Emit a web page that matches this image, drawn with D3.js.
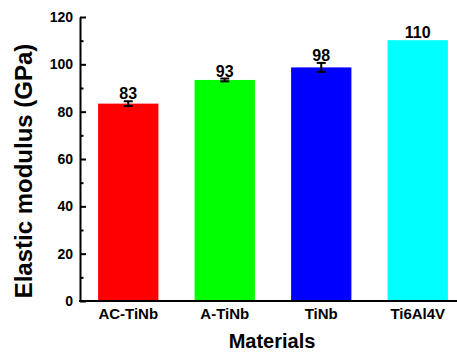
<!DOCTYPE html>
<html>
    <head>
        <meta charset="utf-8"/>
        <script src="https://cdnjs.cloudflare.com/ajax/libs/d3/7.8.5/d3.min.js"></script>
        <style>
            body { margin: 0; background: #fff; }
            svg { display: block; font-family: Arial, "Liberation Sans", sans-serif; }
        </style>
    </head>
    <body>
        <script>
            // data
            const materials = ['AC-TiNb', 'A-TiNb', 'TiNb', 'Ti6Al4V'];
            const modulus = [83.4, 93.4, 98.7, 110.2];
            const errors = [1.0, 0.6, 1.9, 0];
            const labels = ['83', '93', '98', '110'];
            const colors = ['#ff0000', '#00ff00', '#0000ff', '#00ffff'];
            const majorTicks = [0, 20, 40, 60, 80, 100, 120];
            const minorTicks = [10, 30, 50, 70, 90, 110];

            const width = 457, height = 355;
            const svg = d3.select('body').append('svg')
                .attr('width', width)
                .attr('height', height);

            const x = d3.scaleBand()
                .domain(materials)
                .range([80, 466])
                .paddingInner(0.375)
                .paddingOuter(0.1875);

            const y = d3.scaleLinear()
                .domain([0, 120])
                .range([301, 17]);

            // bars
            svg.append('g')
                .selectAll('rect')
                .data(materials)
                .join('rect')
                .attr('x', d => x(d))
                .attr('width', x.bandwidth())
                .attr('y', (d, i) => y(modulus[i]))
                .attr('height', (d, i) => y(0) - y(modulus[i]))
                .attr('fill', (d, i) => colors[i]);

            // error bars
            const eb = svg.append('g')
                .attr('stroke', '#000')
                .attr('stroke-width', 2)
                .selectAll('g')
                .data(materials.filter((d, i) => errors[i] > 0))
                .join('g');
            const idx = d => materials.indexOf(d);
            const cx = d => x(d) + x.bandwidth() / 2;
            eb.append('line')
                .attr('x1', cx).attr('x2', cx)
                .attr('y1', d => y(modulus[idx(d)] - errors[idx(d)]))
                .attr('y2', d => y(modulus[idx(d)] + errors[idx(d)]));
            eb.append('line')
                .attr('x1', d => cx(d) - 4.5).attr('x2', d => cx(d) + 4.5)
                .attr('y1', d => y(modulus[idx(d)] - errors[idx(d)]))
                .attr('y2', d => y(modulus[idx(d)] - errors[idx(d)]));
            eb.append('line')
                .attr('x1', d => cx(d) - 4.5).attr('x2', d => cx(d) + 4.5)
                .attr('y1', d => y(modulus[idx(d)] + errors[idx(d)]))
                .attr('y2', d => y(modulus[idx(d)] + errors[idx(d)]));

            // value labels
            svg.append('g')
                .attr('font-size', 16)
                .attr('font-weight', 'bold')
                .attr('text-anchor', 'middle')
                .selectAll('text')
                .data(materials)
                .join('text')
                .attr('x', cx)
                .attr('y', (d, i) => y(modulus[i] + errors[i]) - 2)
                .text((d, i) => labels[i]);

            // y axis, ticks pointing into the plot
            const yAxis = svg.append('g')
                .attr('transform', 'translate(80,0)')
                .call(d3.axisLeft(y).tickValues(majorTicks).tickSizeInner(-6).tickSizeOuter(0).tickPadding(7));
            yAxis.selectAll('text')
                .attr('font-size', 14)
                .attr('font-weight', 'bold')
                .attr('font-family', null)
                .attr('fill', '#000');
            yAxis.attr('font-family', null);
            yAxis.selectAll('line').attr('stroke-width', 2);
            yAxis.select('.domain').attr('stroke-width', 2);

            svg.append('g')
                .attr('transform', 'translate(80,0)')
                .call(d3.axisLeft(y).tickValues(minorTicks).tickSize(-3.5).tickFormat(''))
                .call(g => g.select('.domain').remove())
                .selectAll('line').attr('stroke-width', 2);

            // x axis
            const xAxis = svg.append('g')
                .attr('transform', 'translate(0,301)')
                .call(d3.axisBottom(x).tickSize(0).tickPadding(7));
            xAxis.attr('font-family', null);
            xAxis.select('.domain')
                .attr('d', 'M79,0H466')
                .attr('stroke-width', 2);
            xAxis.selectAll('text')
                .attr('font-size', 15)
                .attr('font-weight', 'bold')
                .attr('fill', '#000');

            // axis titles
            svg.append('text')
                .attr('x', 272)
                .attr('y', 348)
                .attr('text-anchor', 'middle')
                .attr('font-size', 20)
                .attr('font-weight', 'bold')
                .text('Materials');

            svg.append('text')
                .attr('transform', 'translate(32,171) rotate(-90)')
                .attr('text-anchor', 'middle')
                .attr('font-size', 24)
                .attr('font-weight', 'bold')
                .text('Elastic modulus (GPa)');
        </script>
    </body>
</html>
